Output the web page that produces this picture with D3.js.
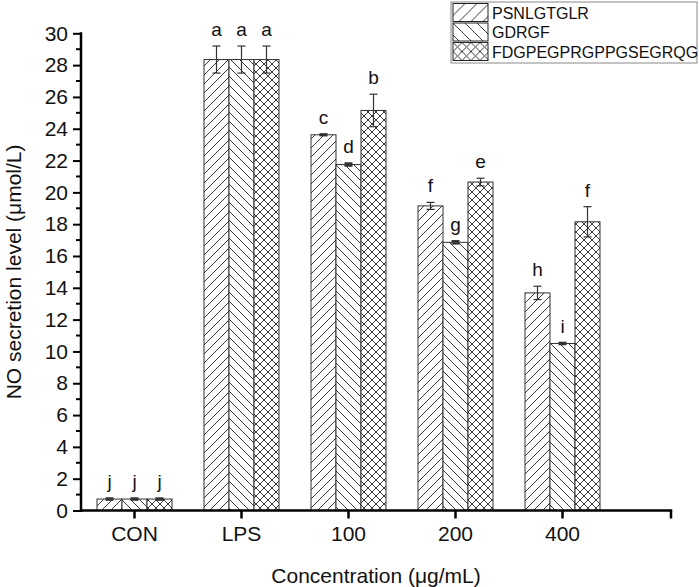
<!DOCTYPE html>
<html>
<head>
<meta charset="utf-8">
<script src="https://cdn.jsdelivr.net/npm/d3@7"></script>
<style>
  html, body { margin: 0; padding: 0; background: #fff; }
  svg { display: block; font-family: "Liberation Sans", Arial, sans-serif; }
</style>
</head>
<body>
<svg id="chart" width="699" height="587"></svg>
<script>
// ── Data ────────────────────────────────────────────────────────────────────
const CATEGORIES = ["CON", "LPS", "100", "200", "400"];
const SERIES     = ["PSNLGTGLR", "GDRGF", "FDGPEGPRGPPGSEGRQG"];
const PATTERNS   = ["hatch-fwd", "hatch-back", "hatch-cross"];

// mean values per series, in category order
const VAL_PSN = [0.72, 28.35, 23.62, 19.15, 13.68];
const VAL_GDR = [0.72, 28.35, 21.75, 16.86, 10.50];
const VAL_FDG = [0.72, 28.35, 25.15, 20.65, 18.15];
// standard deviations
const ERR_PSN = [0.05, 0.85, 0.04, 0.22, 0.42];
const ERR_GDR = [0.05, 0.85, 0.08, 0.08, 0.05];
const ERR_FDG = [0.05, 0.85, 1.02, 0.24, 0.95];
// significance letters
const SIG_PSN = ["j", "a", "c", "f", "h"];
const SIG_GDR = ["j", "a", "d", "g", "i"];
const SIG_FDG = ["j", "a", "b", "e", "f"];

const Y_TICKS = d3.range(0, 31, 2);

const VALUES  = [VAL_PSN, VAL_GDR, VAL_FDG];
const ERRORS  = [ERR_PSN, ERR_GDR, ERR_FDG];
const LETTERS = [SIG_PSN, SIG_GDR, SIG_FDG];

const rows = [];
CATEGORIES.forEach((c, ci) => SERIES.forEach((s, si) => rows.push({
  cat: c, series: s, si, value: VALUES[si][ci], err: ERRORS[si][ci], sig: LETTERS[si][ci]
})));

// ── Layout ──────────────────────────────────────────────────────────────────
const X0 = 81, STEP = 107, Y_TOP = 33.3, Y_BOT = 510.5;
const FONT = "21px";
const svg = d3.select("#chart");

const x = d3.scaleBand().domain(CATEGORIES).range([X0, X0 + STEP * CATEGORIES.length]).padding(0);
const xs = d3.scaleBand().domain(SERIES).range([0, 75]);
const y = d3.scaleLinear().domain([0, 30]).range([Y_BOT, Y_TOP]);
const barX = d => x(d.cat) + x.bandwidth() / 2 - 37.5 + xs(d.series);

// ── Patterns ────────────────────────────────────────────────────────────────
const defs = svg.append("defs");
function hatch(id, s, kind) {
  const p = defs.append("pattern").attr("id", id)
    .attr("patternUnits", "userSpaceOnUse").attr("width", s).attr("height", s);
  p.append("rect").attr("width", s).attr("height", s).attr("fill", "#fff");
  const fwd  = `M-1,1 l2,-2 M0,${s} l${s},-${s} M${s - 1},${s + 1} l2,-2`;
  const back = `M-1,${s - 1} l2,2 M0,0 l${s},${s} M${s - 1},-1 l2,2`;
  const paths = kind === "fwd" ? [fwd] : kind === "back" ? [back] : [fwd, back];
  paths.forEach(dd => p.append("path").attr("d", dd)
    .attr("stroke", "#3a3a3a").attr("stroke-width", 1).attr("fill", "none"));
}
hatch("hatch-fwd", 9, "fwd");
hatch("hatch-back", 9, "back");
hatch("hatch-cross", 8, "cross");
hatch("lg-hatch-fwd", 12, "fwd");
hatch("lg-hatch-back", 12, "back");
hatch("lg-hatch-cross", 9, "cross");

// ── Bars ────────────────────────────────────────────────────────────────────
const g = svg.append("g");
g.selectAll("rect.bar").data(rows).join("rect")
  .attr("class", "bar")
  .attr("x", barX)
  .attr("y", d => y(d.value))
  .attr("width", xs.bandwidth())
  .attr("height", d => y(0) - y(d.value))
  .attr("fill", d => `url(#${PATTERNS[d.si]})`)
  .attr("stroke", "#333")
  .attr("stroke-width", 1);

// error bars
const eb = g.selectAll("g.err").data(rows).join("g").attr("class", "err")
  .attr("transform", d => `translate(${barX(d) + xs.bandwidth() / 2},0)`)
  .attr("stroke", "#333").attr("stroke-width", d => d.err < 0.1 ? 2 : 1.2);
eb.append("line").attr("y1", d => y(d.value + d.err)).attr("y2", d => y(d.value - d.err));
eb.append("line").attr("x1", -4).attr("x2", 4)
  .attr("y1", d => y(d.value + d.err)).attr("y2", d => y(d.value + d.err));
eb.append("line").attr("x1", -4).attr("x2", 4)
  .attr("y1", d => y(d.value - d.err)).attr("y2", d => y(d.value - d.err));

// letters
g.selectAll("text.sig").data(rows).join("text")
  .attr("class", "sig")
  .attr("x", d => barX(d) + xs.bandwidth() / 2)
  .attr("y", d => y(d.value + d.err) - 10)
  .attr("text-anchor", "middle")
  .attr("font-size", "19px")
  .attr("fill", "#111")
  .text(d => d.sig);

// ── Axes ────────────────────────────────────────────────────────────────────
const yAx = svg.append("g").attr("transform", `translate(${X0},0)`)
  .call(d3.axisLeft(y).tickValues(Y_TICKS).tickSize(8).tickSizeOuter(0).tickPadding(5));
yAx.select(".domain").remove();
yAx.selectAll(".tick line").attr("stroke", "#000").attr("stroke-width", 2);
yAx.selectAll(".tick text").attr("font-size", FONT).attr("fill", "#111")
  .attr("font-family", "Liberation Sans, Arial, sans-serif");
// minor ticks
yAx.selectAll("line.minor").data(d3.range(1, 30, 2)).join("line")
  .attr("class", "minor").attr("x1", -5).attr("x2", 0)
  .attr("y1", d => y(d)).attr("y2", d => y(d))
  .attr("stroke", "#000").attr("stroke-width", 2);

const xEnd = x.range()[1] + x.step() / 2 + 1.5;
const xAx = svg.append("g").attr("transform", `translate(0,${Y_BOT})`)
  .call(d3.axisBottom(x).tickSize(8).tickSizeOuter(0).tickPadding(8));
xAx.select(".domain").remove();
xAx.selectAll(".tick line").attr("stroke", "#000").attr("stroke-width", 2.5);
xAx.selectAll(".tick text").attr("font-size", FONT).attr("fill", "#111")
  .attr("font-family", "Liberation Sans, Arial, sans-serif");
xAx.append("line").attr("x1", xEnd).attr("x2", xEnd).attr("y1", 0).attr("y2", 8)
  .attr("stroke", "#000").attr("stroke-width", 2.5);

// axis lines
svg.append("line").attr("x1", X0).attr("x2", X0).attr("y1", Y_TOP - 1).attr("y2", Y_BOT + 1.5)
  .attr("stroke", "#000").attr("stroke-width", 2.5);
svg.append("line").attr("x1", X0 - 1).attr("x2", xEnd + 1.2).attr("y1", Y_BOT).attr("y2", Y_BOT)
  .attr("stroke", "#000").attr("stroke-width", 2.5);

// titles
svg.append("text").attr("x", (X0 + xEnd) / 2).attr("y", 583)
  .attr("text-anchor", "middle").attr("font-size", FONT).attr("fill", "#111")
  .text("Concentration (μg/mL)");
svg.append("text")
  .attr("transform", `translate(21,${(Y_TOP + Y_BOT) / 2}) rotate(-90)`)
  .attr("text-anchor", "middle").attr("font-size", FONT).attr("fill", "#111")
  .text("NO secretion level (μmol/L)");

// ── Legend ──────────────────────────────────────────────────────────────────
const lg = svg.append("g").attr("transform", "translate(451,2)");
lg.append("rect").attr("width", 246).attr("height", 61)
  .attr("fill", "#fff").attr("stroke", "#888").attr("stroke-width", 1);
SERIES.forEach((s, i) => {
  const row = lg.append("g").attr("transform", `translate(2,${1.5 + i * 19.5})`);
  row.append("rect").attr("width", 35).attr("height", 18)
    .attr("fill", `url(#lg-${PATTERNS[i]})`).attr("stroke", "#222").attr("stroke-width", 1);
  row.append("text").attr("x", 39).attr("y", 15).attr("font-size", "16px").attr("fill", "#111")
    .text(s);
});
</script>
</body>
</html>
